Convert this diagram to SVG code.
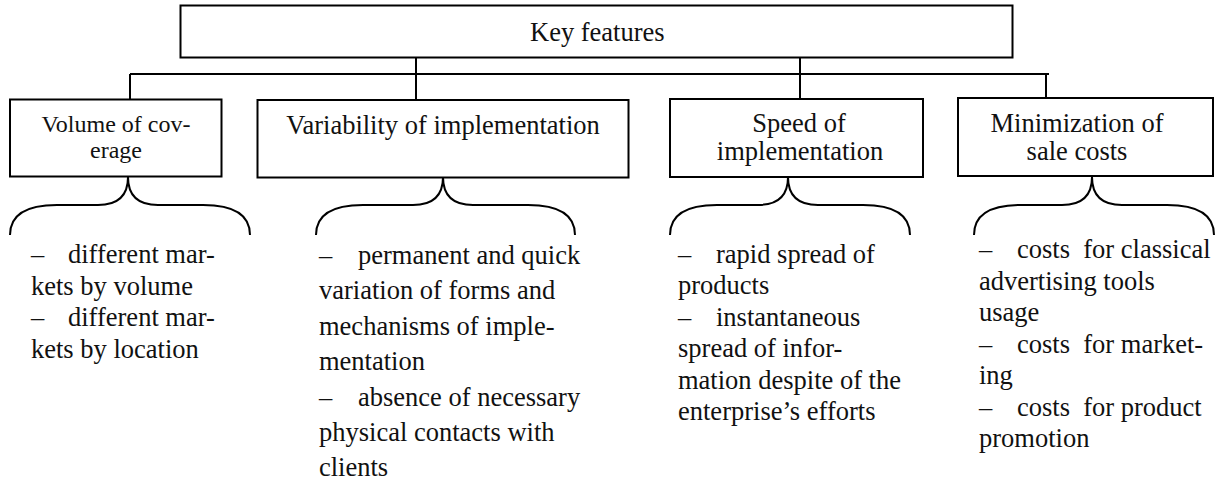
<svg xmlns="http://www.w3.org/2000/svg" width="1218" height="483" viewBox="0 0 1218 483">
<style>
.box{fill:#fff;stroke:#000;stroke-width:2}
.ln{fill:none;stroke:#000;stroke-width:2}
text{font-family:'Times New Roman','Liberation Serif',Tinos,'Nimbus Roman','DejaVu Serif',serif;fill:#111;white-space:pre}
.t26{font-size:26.5px}
.t24{font-size:24px}
.c{text-anchor:middle}
</style>
<rect width="1218" height="483" fill="#fff"/>
<g id="connectors">
<path class="ln" d="M130,74 H1049"/>
<path class="ln" d="M130,74 V100"/>
<path class="ln" d="M416,57 V100"/>
<path class="ln" d="M800,57 V99"/>
<path class="ln" d="M1046,74 V98"/>
<path class="ln" d="M10,235 C10,215 25,205 57,205 L98,205 C118,205 128,195 128,177 C128,195 138,205 158,205 L203,205 C235,205 250,215 250,235"/>
<path class="ln" d="M316,235 C316,215 331,205 363,205 L413,205 C433,205 443,195 443,177 C443,195 453,205 473,205 L528,205 C560,205 575,215 575,235"/>
<path class="ln" d="M670,235 C670,215 685,205 717,205 L758,205 C778,205 788,195 788,177 C788,195 798,205 818,205 L863,205 C895,205 910,215 910,235"/>
<path class="ln" d="M974,235 C974,215 989,205 1021,205 L1062,205 C1082,205 1092,195 1092,177 C1092,195 1102,205 1122,205 L1167,205 C1199,205 1214,215 1214,235"/>
</g>
<g id="key-features">
<rect class="box" x="180.5" y="5.5" width="832" height="52"/>
<text class="t26" x="530" y="41">Key features</text>
</g>
<g id="volume">
<rect class="box" x="10" y="99.5" width="211.5" height="77"/>
<text class="t24 c" x="116" y="131.5">Volume of cov-</text>
<text class="t24 c" x="116" y="158">erage</text>
</g>
<g id="variability">
<rect class="box" x="257.5" y="100" width="371" height="77.5"/>
<text class="t26 c" x="443" y="134">Variability of implementation</text>
</g>
<g id="speed">
<rect class="box" x="670" y="99" width="253" height="78"/>
<text class="t26 c" x="799" y="131.5">Speed of</text>
<text class="t26 c" x="800" y="160">implementation</text>
</g>
<g id="minimization">
<rect class="box" x="958" y="98" width="255" height="78"/>
<text class="t26 c" x="1077" y="131.5">Minimization of</text>
<text class="t26 c" x="1077" y="160">sale costs</text>
</g>
<g id="volume-items">
<text class="t26" x="31" y="263">–</text><text class="t26" x="68" y="263">different mar-</text>
<text class="t26" x="31" y="294.5">kets by volume</text>
<text class="t26" x="31" y="326">–</text><text class="t26" x="68" y="326">different mar-</text>
<text class="t26" x="31" y="357.5">kets by location</text>
</g>
<g id="variability-items">
<text class="t26" x="319" y="263.5">–</text><text class="t26" x="358" y="263.5">permanent and quick</text>
<text class="t26" x="319" y="299">variation of forms and</text>
<text class="t26" x="319" y="334.5">mechanisms of imple-</text>
<text class="t26" x="319" y="370">mentation</text>
<text class="t26" x="319" y="405.5">–</text><text class="t26" x="358" y="405.5">absence of necessary</text>
<text class="t26" x="319" y="441">physical contacts with</text>
<text class="t26" x="319" y="476">clients</text>
</g>
<g id="speed-items">
<text class="t26" x="678" y="263">–</text><text class="t26" x="716" y="263">rapid spread of</text>
<text class="t26" x="678" y="294">products</text>
<text class="t26" x="678" y="325.5">–</text><text class="t26" x="716" y="325.5">instantaneous</text>
<text class="t26" x="678" y="357">spread of infor-</text>
<text class="t26" x="678" y="388.5">mation despite of the</text>
<text class="t26" x="678" y="419.5">enterprise’s efforts</text>
</g>
<g id="minimization-items">
<text class="t26" x="979" y="258">–</text><text class="t26" x="1017" y="258">costs  for classical</text>
<text class="t26" x="979" y="289.5">advertising tools</text>
<text class="t26" x="979" y="321">usage</text>
<text class="t26" x="979" y="352.5">–</text><text class="t26" x="1017" y="352.5">costs  for market-</text>
<text class="t26" x="979" y="384">ing</text>
<text class="t26" x="979" y="415.5">–</text><text class="t26" x="1017" y="415.5">costs  for product</text>
<text class="t26" x="979" y="447">promotion</text>
</g>
</svg>
